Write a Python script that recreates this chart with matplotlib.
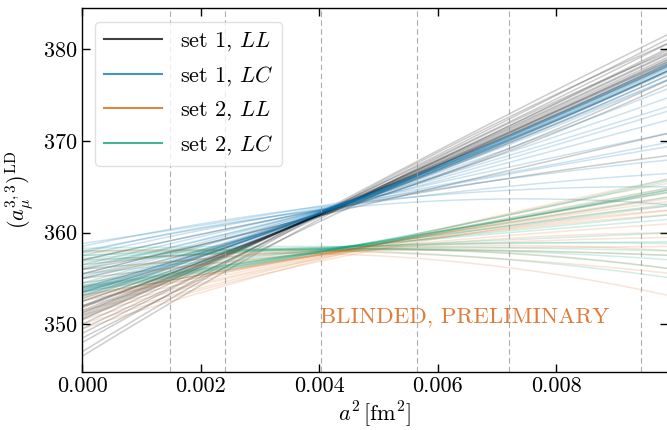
import numpy as np
import matplotlib.pyplot as plt
from matplotlib.lines import Line2D
from matplotlib.ticker import FormatStrFormatter, MultipleLocator

plt.rcParams['font.family'] = 'serif'
plt.rcParams['font.serif'] = ['cmr10']
plt.rcParams['mathtext.fontset'] = 'cm'
plt.rcParams['axes.formatter.use_mathtext'] = True

# lattice spacings squared [fm^2] of the ensembles (dashed lines)
a2_ens = [0.001485, 0.002414, 0.004034, 0.005654, 0.007207, 0.009435]

# fit curves y = c0 + c1*t + c2*t^2 with t = a^2 / 0.01 fm^2
# set 1, LL
s1_ll_c0 = [351.5, 351.0, 352.0, 350.5, 351.8, 350.0, 352.5, 349.0, 348.0, 347.0, 353.5,
            355.0, 356.0, 346.5, 350.8, 351.2, 354.0, 349.5, 352.8, 348.5, 355.5, 357.0,
            351.3, 350.6, 351.9]
s1_ll_c1 = [25.12, 26.70, 23.34, 28.07, 24.23, 29.72, 21.55, 32.40, 36.31, 39.62, 18.87,
            13.65, 11.38, 39.97, 27.18, 25.95, 17.63, 30.13, 21.76, 32.55, 16.10, 14.75,
            25.67, 28.01, 23.96]
s1_ll_c2 = [2.38, 2.10, 3.16, 1.73, 2.77, 1.28, 3.95, 0.10, -2.31, -5.62, 5.13,
            8.35, 9.12, -6.47, 1.52, 2.15, 6.37, 0.87, 4.04, -2.05, -0.60, -3.25,
            2.23, 1.29, 2.84]

# set 1, LC
s1_lc_c0 = [353.5, 353.0, 354.0, 353.8, 352.5, 354.5, 355.0, 355.5, 356.0, 356.5, 357.0,
            357.5, 358.0, 358.5, 357.8, 352.0, 353.2, 354.2, 356.2, 355.2, 358.8, 353.6,
            353.4, 353.7, 353.1]
s1_lc_c1 = [19.14, 20.93, 17.63, 19.29, 22.03, 17.02, 16.41, 16.50, 15.40, 15.55, 14.46,
            14.61, 13.11, 13.67, 15.82, 23.97, 19.97, 17.71, 14.44, 16.42, 9.58, 19.42,
            19.42, 19.01, 20.10]
s1_lc_c2 = [5.66, 4.87, 6.37, 4.71, 3.97, 5.48, 4.59, 2.00, 1.10, -1.05, -1.96,
            -4.11, -4.61, -7.17, -10.62, 1.03, 5.43, 5.59, 2.86, 3.38, 1.62, 4.98,
            5.58, 5.39, 5.70]

# set 2, LL
s2_ll_c0 = [352.5, 352.0, 353.0, 351.5, 350.5, 349.5, 354.0, 355.0, 356.0, 357.0,
            357.8, 356.5, 354.5, 353.5, 352.8, 351.0, 355.5, 358.0, 353.2, 350.0, 352.6]
s2_ll_c1 = [13.50, 14.46, 12.55, 15.42, 17.75, 20.71, 10.22, 7.82, 5.84, 3.79,
            2.43, 7.39, 11.21, 12.43, 13.86, 17.70, 9.99, 0.48, 10.54, 20.25, 13.30]
s2_ll_c2 = [-2.00, -1.96, -2.05, -1.92, -2.25, -4.71, -1.72, -1.82, -2.34, -3.29,
            -4.73, -10.89, -7.71, -5.93, -4.66, -5.70, -9.49, 0.02, 1.06, -7.75, -2.10]

# set 2, LC
s2_lc_c0 = [353.8, 354.0, 353.5, 355.0, 356.0, 357.0, 357.5, 358.0, 356.5,
            357.5, 354.5, 353.2, 355.5, 356.8, 358.3, 354.2, 357.2, 353.6, 353.9, 354.1]
s2_lc_c1 = [9.58, 9.65, 10.06, 7.67, 5.69, 3.29, 2.68, 1.59, 7.38,
            4.22, 8.28, 10.53, 6.64, 5.22, 1.04, 9.45, 4.27, 9.99, 9.37, 9.24]
s2_lc_c2 = [1.62, 0.85, 2.24, 0.33, -0.19, -0.29, -1.18, -2.09, -7.88,
            -6.72, 1.22, 2.27, -0.14, -3.22, -1.34, -0.45, -4.47, 1.21, 1.53, 1.26]

sets = [
    ('set 1, $LL$', 'black', 0.2, s1_ll_c0, s1_ll_c1, s1_ll_c2),
    ('set 1, $LC$', '#0173b2', 0.2, s1_lc_c0, s1_lc_c1, s1_lc_c2),
    ('set 2, $LL$', '#d55e00', 0.16, s2_ll_c0, s2_ll_c1, s2_ll_c2),
    ('set 2, $LC$', '#029e73', 0.18, s2_lc_c0, s2_lc_c1, s2_lc_c2),
]

fig = plt.figure(figsize=(6.67, 4.30), dpi=100)
ax = fig.add_axes([0.123, 0.135, 0.878, 0.846])

t = np.linspace(0, 1.0, 200)
a2 = 0.01 * t
handles = []
for label, col, alpha, c0, c1, c2 in sets:
    for k in range(len(c0)):
        ax.plot(a2, c0[k] + c1[k] * t + c2[k] * t**2, color=col, alpha=alpha, lw=1.1)
    handles.append(Line2D([], [], color=col, alpha=0.75, lw=1.5, label=label))

for x in a2_ens:
    ax.axvline(x, color='0.6', ls='--', lw=0.8, alpha=0.8, dashes=(5, 3))

ax.text(0.00645, 350.8, 'BLINDED, PRELIMINARY', color='#e07b39',
        fontsize=16.5, ha='center', va='center')

ax.set_xlim(0, 0.00988)
ax.set_ylim(344.8, 384.5)
ax.xaxis.set_major_locator(MultipleLocator(0.002))
ax.xaxis.set_major_formatter(FormatStrFormatter('%.3f'))
ax.yaxis.set_major_locator(MultipleLocator(10))
ax.tick_params(direction='in', top=True, right=True, length=6, width=1, labelsize=16)
for s in ax.spines.values():
    s.set_linewidth(1.0)

ax.set_xlabel(r'$a^2\,[{\rm fm}^2]$', fontsize=16, labelpad=2)
ax.set_ylabel(r'$(a_\mu^{3,3})^{\rm LD}$', fontsize=16, labelpad=5)

ax.legend(handles=handles, loc='upper left', fontsize=16, frameon=True,
          fancybox=True, framealpha=0.8, edgecolor='0.85',
          handlelength=2.6, borderaxespad=0.6)

fig.savefig('out.png', dpi=100)
